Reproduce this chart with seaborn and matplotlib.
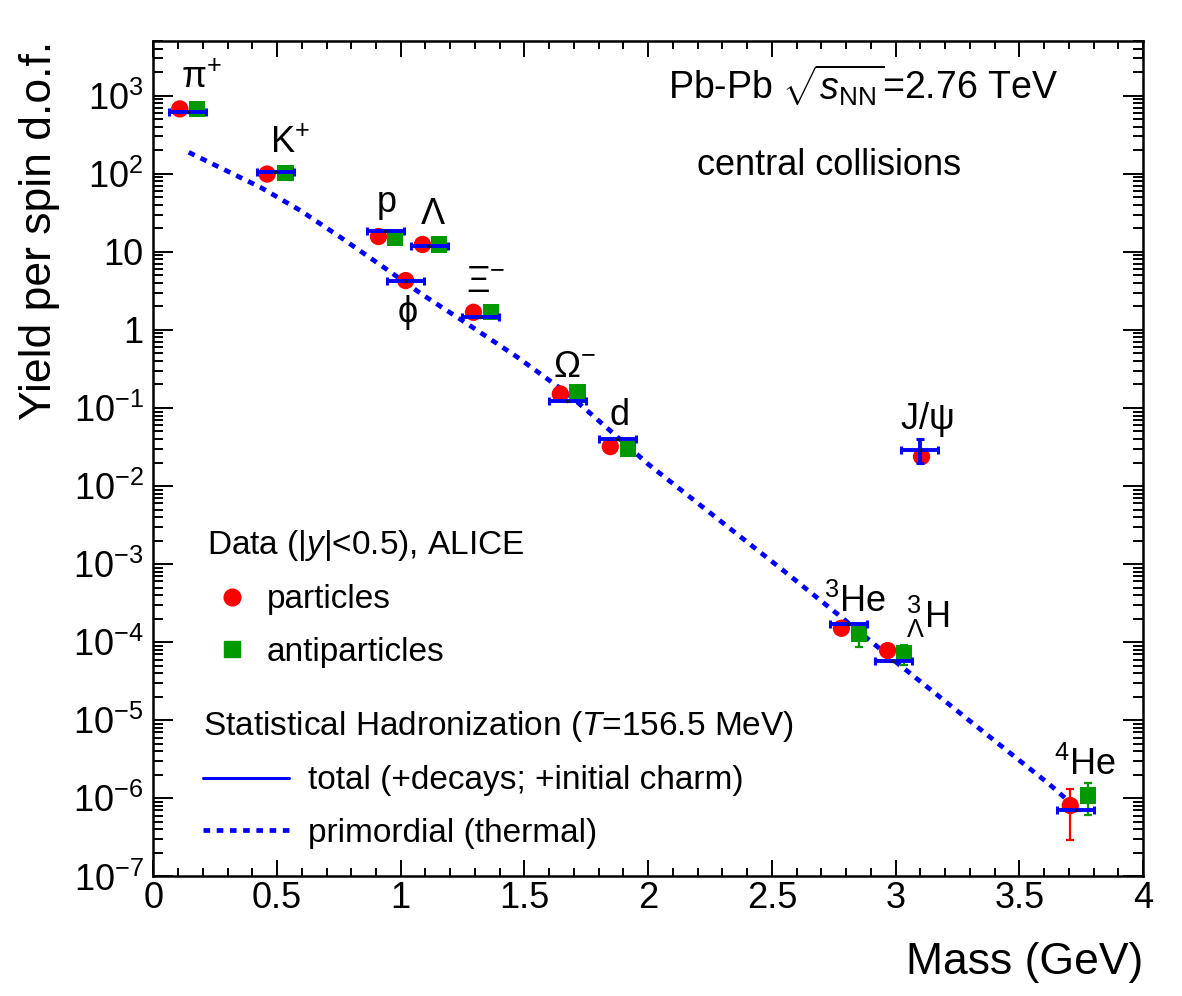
from matplotlib import pyplot as plt
from matplotlib.lines import Line2D
from matplotlib.ticker import FuncFormatter, MultipleLocator, LogLocator, NullFormatter
import numpy as np
import seaborn as sns

# --------------------------------------------------------
# Data
# --------------------------------------------------------
species = ["pi+", "K+", "p", "Lambda", "phi", "Xi-", "Omega-", "d",
           "J/psi", "3He", "3LH", "4He"]
mass = [0.1396, 0.4937, 0.9383, 1.1157, 1.0195, 1.3217, 1.6725, 1.8756,
        3.0969, 2.8084, 2.9913, 3.7274]

# model (total) per species, with half-width of the horizontal bar
model_yield = [611, 106, 18.7, 11.7, 4.19, 1.45, 0.122, 0.0398,
               0.029, 1.69e-4, 5.7e-5, 7.0e-7]
model_err_lo = [0, 0, 0, 0, 0, 0, 0, 0, 0.0092, 0, 0, 0]
model_err_hi = [0, 0, 0, 0, 0, 0, 0, 0, 0.0112, 0, 0, 0]
model_halfwidth = 0.075

# particles (red circles)
part_x = [0.107, 0.460, 0.910, 1.088, 1.020, 1.294, 1.645, 1.847,
          3.105, 2.781, 2.968, 3.706]
part_y = [676, 99, 15.7, 12.4, 4.28, 1.68, 0.151, 0.032,
          0.0239, 1.51e-4, 7.83e-5, 8.1e-7]
part_err = [0, 0, 0, 0, 0, 0, 0, 0, 0, 0, 0, 5.2e-7]

# antiparticles (green squares)
anti_x = [0.177, 0.534, 0.977, 1.155, 1.364, 1.715, 1.918,
          2.853, 3.035, 3.777]
anti_y = [676, 102, 15.1, 12.4, 1.68, 0.159, 0.030,
          1.28e-4, 7.2e-5, 1.09e-6]
anti_err = [0, 0, 0, 0, 0, 0, 0, 4.2e-5, 2.1e-5, 4.7e-7]

# primordial (thermal) curve
prim_m = [0.143, 0.433, 0.595, 0.757, 0.931, 1.081, 1.270, 1.472, 1.675,
          1.877, 1.999, 2.538, 2.781, 3.011, 3.213, 3.416, 3.618, 3.726]
prim_y = [188, 67.0, 33.7, 15.3, 6.34, 2.92, 1.19, 0.446, 0.152,
          0.0422, 0.0192, 8.7e-4, 2.09e-4, 5.28e-5, 1.63e-5, 5.0e-6,
          1.55e-6, 7.8e-7]

# labels next to the points (text, x, y of baseline)
labels = [
    (r"$\pi^{+}$", 0.194, 1277),
    (r"K$^{+}$", 0.553, 188),
    ("p", 0.945, 32.1),
    (r"$\Lambda$", 1.131, 22.8),
    (r"$\phi$", 1.025, 1.26),
    (r"$\Xi^{-}$", 1.345, 3.05),
    (r"$\Omega^{-}$", 1.704, 0.249),
    ("d", 1.886, 0.060),
    (r"J/$\psi$", 3.124, 0.0545),
    (r"$^{3}$He", 2.835, 2.45e-4),
    (r"${}^{3}_{\Lambda}$H", 3.131, 1.50e-4),
    (r"$^{4}$He", 3.766, 2.0e-6),
]

RED = "#ff0000"
GREEN = "#009a00"
BLUE = "#0000ff"

# --------------------------------------------------------
# Style
# --------------------------------------------------------
sns.set_theme(style="ticks")
plt.rcParams['font.family'] = ['Liberation Sans', 'DejaVu Sans']
plt.rcParams['mathtext.fontset'] = 'custom'
plt.rcParams['mathtext.rm'] = 'Liberation Sans'
plt.rcParams['mathtext.it'] = 'Liberation Sans:italic'
plt.rcParams['mathtext.sf'] = 'Liberation Sans'
plt.rcParams['mathtext.default'] = 'regular'
for key in ['text.color', 'axes.labelcolor', 'xtick.color', 'ytick.color',
            'axes.edgecolor']:
    plt.rcParams[key] = 'black'

fig = plt.figure(figsize=(11.82, 9.96), dpi=100)
ax = fig.add_axes([0.1297, 0.12, 0.967 - 0.1297, 0.9588 - 0.12])

# --------------------------------------------------------
# Plot
# --------------------------------------------------------
dash = (0, (1.4, 1.4))
sns.lineplot(x=prim_m, y=prim_y, color=BLUE, linewidth=3.4,
             linestyle=dash, sort=False, ax=ax, zorder=2)

ax.errorbar(part_x, part_y, yerr=part_err, fmt='none', ecolor=RED,
            elinewidth=1.6, capsize=3, capthick=1.6, zorder=3)
ax.errorbar(anti_x, anti_y, yerr=anti_err, fmt='none', ecolor=GREEN,
            elinewidth=1.6, capsize=3, capthick=1.6, zorder=3)

sns.scatterplot(x=part_x, y=part_y, marker='o', color=RED, s=155,
                edgecolor='none', ax=ax, zorder=4)
sns.scatterplot(x=anti_x, y=anti_y, marker='s', color=GREEN, s=140,
                edgecolor='none', ax=ax, zorder=4)

ax.errorbar(mass, model_yield, xerr=model_halfwidth,
            yerr=[model_err_lo, model_err_hi],
            fmt='o', ms=1.5, mfc='k', mec='k', ecolor=BLUE,
            elinewidth=2.8, capsize=3, capthick=2.2, zorder=5)

for txt, lx, ly in labels:
    ax.text(lx, ly, txt, fontsize=26, ha='center', va='baseline')

ax.set_yscale('log')
ax.set_xlim(0, 4)
ax.set_ylim(1e-7, 5000)

ax.xaxis.set_major_locator(MultipleLocator(0.5))
ax.xaxis.set_minor_locator(MultipleLocator(0.1))
ax.xaxis.set_major_formatter(FuncFormatter(lambda v, p: f"{v:g}"))
ax.yaxis.set_major_locator(LogLocator(base=10, numticks=20))
ax.yaxis.set_minor_locator(LogLocator(base=10, subs=np.arange(2, 10), numticks=20))
ax.yaxis.set_minor_formatter(NullFormatter())


def ylab(v, p):
    e = int(round(np.log10(v)))
    if e == 0:
        return "1"
    if e == 1:
        return "10"
    return r"$10^{%d}$" % e


ax.yaxis.set_major_formatter(FuncFormatter(ylab))

ax.tick_params(axis='both', which='both', direction='in', top=True,
               right=True, labelsize=26, width=1.4, color='black',
               labelcolor='black')
ax.tick_params(axis='x', which='major', length=11.5, pad=3)
ax.tick_params(axis='x', which='minor', length=5.5)
ax.tick_params(axis='y', which='major', length=14.4, pad=7)
ax.tick_params(axis='y', which='minor', length=7.2)
for s in ax.spines.values():
    s.set_linewidth(1.8)
    s.set_color('black')

ax.set_xlabel("Mass (GeV)", fontsize=32, ha='right', va='center')
ax.xaxis.set_label_coords(1.0, -0.1035)
ax.set_ylabel("Yield per spin d.o.f.", fontsize=32, ha='right', va='center')
ax.yaxis.set_label_coords(-0.1145, 1.0)

ax.text(0.520, 0.929, r"Pb-Pb $\sqrt{\it{s}_{\rm NN}}$=2.76 TeV",
        transform=ax.transAxes, fontsize=27, ha='left', va='baseline')
ax.text(0.549, 0.8396, "central collisions",
        transform=ax.transAxes, fontsize=26, ha='left', va='baseline')

# --------------------------------------------------------
# Legends
# --------------------------------------------------------
data_handles = [
    Line2D([], [], marker='o', color=RED, linestyle='none', markersize=12),
    Line2D([], [], marker='s', color=GREEN, linestyle='none', markersize=11),
]
leg1 = ax.legend(data_handles, ["particles", "antiparticles"],
                 title=r"Data (|$\it{y}$|<0.5), ALICE",
                 loc='upper left', bbox_to_anchor=(0.054, 0.417),
                 frameon=False, fontsize=24, title_fontsize=24,
                 alignment='left', borderpad=0, borderaxespad=0,
                 handlelength=1.5, handletextpad=0.3, labelspacing=0.64)
ax.add_artist(leg1)

model_handles = [
    Line2D([], [], color=BLUE, linewidth=2.2),
    Line2D([], [], color=BLUE, linewidth=3.4, linestyle=dash),
]
ax.legend(model_handles, ["total (+decays; +initial charm)",
                          "primordial (thermal)"],
          title=r"Statistical Hadronization ($\it{T}$=156.5 MeV)",
          loc='upper left', bbox_to_anchor=(0.050, 0.2005),
          frameon=False, fontsize=24, title_fontsize=24,
          alignment='left', borderpad=0, borderaxespad=0,
          handlelength=2.6, handletextpad=0.55, labelspacing=0.64)

fig.savefig("out.png", dpi=100)
